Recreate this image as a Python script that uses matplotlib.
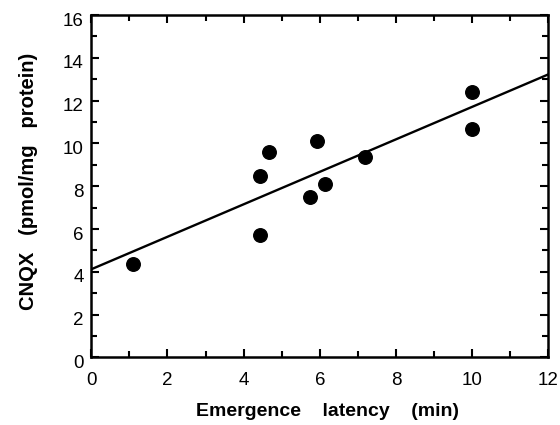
import numpy as np
import matplotlib
matplotlib.use('Agg')
import matplotlib.pyplot as plt
from matplotlib.ticker import MultipleLocator
from matplotlib.transforms import ScaledTranslation

# values
latency = [1.10, 4.43, 4.43, 4.66, 5.74, 5.92, 6.14, 7.20, 10.01, 10.01]
cnqx = [4.36, 8.49, 5.72, 9.61, 7.51, 10.13, 8.10, 9.38, 12.42, 10.69]

plt.rcParams['font.family'] = ['Liberation Sans', 'DejaVu Sans']

fig = plt.figure(figsize=(5.6, 4.25), dpi=100)
ax = fig.add_axes([0.163, 0.159, 0.816, 0.806])

# regression line over the full x range
slope, intercept = np.polyfit(latency, cnqx, 1)
xs = np.array([0, 12])
ax.plot(xs, intercept + slope * xs, color='black', lw=1.7)

ax.scatter(latency, cnqx, s=95, color='black', zorder=3)

ax.set_xlim(0, 12)
ax.set_ylim(0, 16)
ax.xaxis.set_major_locator(MultipleLocator(2))
ax.xaxis.set_minor_locator(MultipleLocator(1))
ax.yaxis.set_major_locator(MultipleLocator(2))
ax.yaxis.set_minor_locator(MultipleLocator(1))
ax.tick_params(which='both', direction='in', top=True, right=True, width=1.5, labelsize=13.5)
ax.tick_params(which='major', length=6)
ax.tick_params(which='minor', length=4)
ax.tick_params(axis='x', pad=10.5)
ax.tick_params(axis='y', pad=5.5)
for sp in ax.spines.values():
    sp.set_linewidth(1.8)

# y tick labels sit a little low in the original
shift = ScaledTranslation(0, -3 / 72, fig.dpi_scale_trans)
for lab in ax.get_yticklabels():
    lab.set_transform(lab.get_transform() + shift)

ax.set_xlabel('Emergence    latency    (min)', fontsize=14, fontweight='bold', va='top')
ax.set_ylabel('CNQX   (pmol/mg   protein)', fontsize=14.5, fontweight='bold')
ax.xaxis.set_label_coords(0.516, -0.134)
ax.yaxis.set_label_coords(-0.117, 0.515)

fig.savefig('out.png', dpi=100)
